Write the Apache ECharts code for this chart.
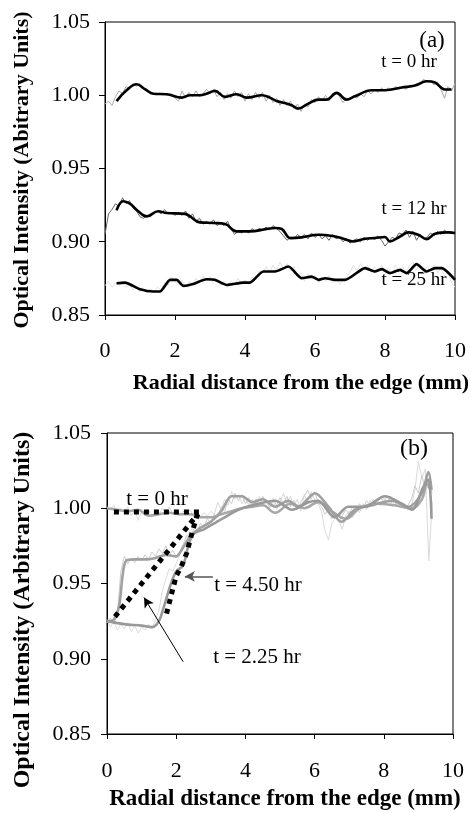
<!DOCTYPE html>
<html>
<head>
<meta charset="utf-8">
<script src="https://cdn.jsdelivr.net/npm/echarts@6/dist/echarts.min.js"></script>
<style>
  html, body { margin: 0; padding: 0; background: #fff; }
  #chart { width: 470px; height: 813px; }
</style>
</head>
<body>
<div id="chart"></div>
<script>
// sample positions (mm) of the raw scans
const RAW_X = [0,0.1,0.2,0.3,0.4,0.5,0.6,0.7,0.8,0.9,1,1.1,1.2,1.3,1.4,1.5,1.6,1.7,1.8,1.9,2,2.1,2.2,2.3,2.4,2.5,2.6,2.7,2.8,2.9,3,3.1,3.2,3.3,3.4,3.5,3.6,3.7,3.8,3.9,4,4.1,4.2,4.3,4.4,4.5,4.6,4.7,4.8,4.9,5,5.1,5.2,5.3,5.4,5.5,5.6,5.7,5.8,5.9,6,6.1,6.2,6.3,6.4,6.5,6.6,6.7,6.8,6.9,7,7.1,7.2,7.3,7.4,7.5,7.6,7.7,7.8,7.9,8,8.1,8.2,8.3,8.4,8.5,8.6,8.7,8.8,8.9,9,9.1,9.2,9.3,9.4,9.5,9.6,9.7,9.8,9.9,10];

// panel (a) raw scans
const A_T0_RAW = [0.994,0.996,0.993,0.999,1.003,1.001,1.006,1.004,1.008,1.006,1.008,1.005,1.004,1.002,1.001,1.001,1.001,1.001,1.000,1.001,0.998,0.996,1.003,0.998,1.002,0.999,1.003,0.999,1.001,1.004,1.001,1.004,0.999,1.002,0.997,1.001,0.998,1.003,0.999,1.002,0.996,1.001,0.997,1.002,0.998,1.002,0.996,1.000,0.995,0.998,0.993,0.997,0.993,0.996,0.991,0.994,0.989,0.994,0.992,0.997,0.995,0.999,0.996,1.000,0.996,1.001,1.002,0.999,0.995,0.998,0.997,1.000,0.998,1.001,0.999,1.003,1.001,1.004,1.002,1.005,1.003,1.005,1.003,1.006,1.004,1.006,1.004,1.007,1.006,1.008,1.007,1.011,1.009,1.010,1.007,1.009,1.004,0.998,1.006,1.003,1.008];
const A_T12_RAW = [0.905,0.919,0.922,0.926,0.924,0.930,0.926,0.928,0.923,0.921,0.917,0.916,0.918,0.917,0.920,0.921,0.919,0.922,0.919,0.920,0.918,0.920,0.918,0.921,0.916,0.919,0.914,0.916,0.912,0.914,0.912,0.915,0.911,0.913,0.911,0.914,0.909,0.905,0.907,0.906,0.908,0.906,0.909,0.907,0.909,0.908,0.910,0.908,0.911,0.909,0.907,0.904,0.901,0.903,0.902,0.905,0.903,0.905,0.902,0.906,0.903,0.905,0.902,0.904,0.901,0.905,0.902,0.903,0.900,0.902,0.899,0.901,0.902,0.900,0.903,0.901,0.903,0.902,0.904,0.901,0.897,0.900,0.903,0.902,0.906,0.905,0.908,0.903,0.907,0.901,0.905,0.902,0.903,0.906,0.904,0.907,0.905,0.908,0.906,0.907,0.905];
const A_T25_RAW = [0.870,0.873,0.869,0.872,0.870,0.873,0.869,0.871,0.867,0.869,0.866,0.868,0.865,0.868,0.866,0.869,0.867,0.872,0.870,0.876,0.873,0.870,0.874,0.869,0.873,0.871,0.875,0.872,0.877,0.873,0.876,0.872,0.874,0.870,0.873,0.869,0.873,0.871,0.875,0.871,0.874,0.871,0.876,0.874,0.880,0.878,0.883,0.879,0.884,0.880,0.886,0.881,0.885,0.880,0.883,0.876,0.879,0.873,0.878,0.874,0.877,0.872,0.876,0.873,0.877,0.872,0.875,0.871,0.874,0.876,0.879,0.884,0.880,0.885,0.881,0.884,0.879,0.883,0.880,0.884,0.879,0.882,0.878,0.884,0.880,0.883,0.879,0.884,0.886,0.881,0.885,0.879,0.883,0.880,0.884,0.879,0.882,0.877,0.880,0.872,0.869];

// panel (a) smoothed fits [mm, intensity]
const A_T0_FIT = [[0.33,0.996],[0.6,1.003],[0.9,1.0075],[1.15,1.004],[1.38,1.001],[1.76,1.0007],[2.19,0.9984],[2.43,1.000],[2.71,1.000],[2.9,1.001],[3.14,1.003],[3.43,0.9989],[3.76,1.0007],[4.05,0.9984],[4.48,1.000],[4.71,0.9984],[4.9,0.9961],[5.14,0.9947],[5.33,0.9932],[5.52,0.9909],[5.81,0.9943],[6.1,0.997],[6.33,0.997],[6.62,1.0016],[6.9,0.997],[7.14,0.9993],[7.62,1.0034],[8.0,1.0034],[8.48,1.0053],[8.86,1.0066],[9.19,1.0096],[9.43,1.0087],[9.71,1.0039],[9.9,1.0039]];
const A_T12_FIT = [[0.33,0.9214],[0.52,0.9276],[0.71,0.926],[0.95,0.9208],[1.19,0.9173],[1.52,0.9208],[1.76,0.9196],[2.29,0.919],[2.43,0.9173],[2.71,0.9132],[3.1,0.9128],[3.43,0.9121],[3.76,0.9071],[4.14,0.9071],[4.62,0.9087],[4.86,0.9094],[5.05,0.9087],[5.29,0.9025],[5.62,0.903],[6.1,0.9048],[6.57,0.9036],[6.81,0.9021],[7.1,0.9002],[7.43,0.9021],[7.71,0.9025],[8.0,0.9032],[8.14,0.9002],[8.43,0.9036],[8.67,0.9064],[8.95,0.9048],[9.19,0.9018],[9.43,0.9055],[9.81,0.9064],[10.0,0.906]];
const A_T25_FIT = [[0.33,0.8717],[0.57,0.8721],[1.0,0.8676],[1.38,0.866],[1.57,0.866],[1.86,0.874],[2.05,0.874],[2.24,0.8699],[2.52,0.8712],[2.9,0.8744],[3.14,0.874],[3.48,0.8705],[3.95,0.8721],[4.14,0.8721],[4.52,0.8797],[4.86,0.8797],[5.24,0.8831],[5.62,0.8751],[5.9,0.8762],[6.1,0.874],[6.29,0.8751],[6.57,0.874],[6.86,0.874],[7.43,0.882],[7.71,0.8797],[7.91,0.8813],[8.14,0.8786],[8.43,0.8808],[8.62,0.8786],[8.9,0.8847],[9.19,0.8797],[9.43,0.882],[9.62,0.882],[10.0,0.874]];

// panel (b) raw scans (0 .. 9.4 mm)
const B_RAW_1 = [1.001,0.999,1.002,0.996,1.000,0.997,1.001,0.995,0.999,0.992,0.998,0.996,0.999,0.994,0.998,0.996,1.000,0.997,1.001,0.996,0.999,0.995,0.998,0.996,0.999,0.995,0.997,0.994,0.997,0.995,0.998,0.996,1.004,0.999,1.006,1.002,1.011,1.006,1.009,1.003,1.007,1.002,1.006,1.001,1.008,1.003,1.006,1.000,1.005,0.999,1.004,1.010,1.003,1.008,1.001,1.006,0.998,1.009,1.004,1.011,1.006,1.003,0.998,0.985,0.979,0.990,0.994,0.992,0.986,0.995,0.998,0.994,1.001,0.997,1.003,0.999,1.005,1.001,1.006,1.002,1.007,1.003,1.008,1.002,1.005,1.000,1.003,0.999,1.002,1.012,1.031,1.020,1.026,0.965,1.004];
const B_RAW_2 = [0.924,0.927,0.923,0.930,0.958,0.968,0.963,0.967,0.964,0.968,0.965,0.969,0.966,0.971,0.968,0.973,0.970,0.975,0.969,0.972,0.968,0.971,0.976,0.982,0.979,0.986,0.984,0.990,0.987,0.993,0.990,0.996,0.994,1.001,0.998,1.006,1.003,1.010,1.005,1.009,1.003,1.007,1.001,1.006,1.002,1.008,1.004,1.001,1.006,1.002,1.007,1.003,1.008,1.001,1.005,0.999,1.004,1.008,1.012,1.006,1.011,1.004,1.001,0.996,0.999,0.993,0.997,0.991,0.995,0.999,0.996,1.001,0.998,1.003,1.000,1.005,1.002,1.006,1.003,1.007,1.004,1.008,1.003,1.006,1.001,1.004,1.000,1.002,1.006,1.015,1.010,1.022,1.012,1.015,1.010];
const B_RAW_3 = [0.926,0.921,0.925,0.919,0.923,0.920,0.924,0.918,0.922,0.917,0.921,0.919,0.923,0.920,0.926,0.932,0.945,0.953,0.960,0.958,0.963,0.969,0.976,0.981,0.985,0.987,0.990];

// panel (b) smoothed profiles
const B_T0_FIT = [[0,1.000],[0.3,0.999],[0.6,0.998],[0.9,0.999],[1.2,0.995],[1.5,0.996],[1.8,0.997],[2.1,0.996],[2.4,0.996],[2.7,0.994],[3.0,0.994],[3.3,0.996],[3.6,0.998],[3.9,1.000],[4.2,1.001],[4.5,1.002],[4.86,0.997],[5.3,1.003],[5.7,1.000],[6.1,1.004],[6.5,0.998],[6.9,0.993],[7.3,1.000],[7.8,1.003],[8.3,1.002],[8.8,1.000],[9.1,1.006],[9.25,1.016],[9.35,1.012]];
const B_T225_FIT = [[0,0.925],[0.2,0.926],[0.35,0.935],[0.45,0.955],[0.55,0.965],[0.8,0.966],[1.1,0.966],[1.4,0.967],[1.7,0.969],[2.0,0.968],[2.15,0.972],[2.4,0.981],[2.7,0.987],[3.0,0.991],[3.3,0.998],[3.6,1.008],[3.9,1.008],[4.2,1.004],[4.5,1.006],[4.86,1.001],[5.24,1.005],[5.53,1.001],[6.01,1.010],[6.4,1.001],[6.78,0.991],[7.17,0.999],[7.65,1.002],[8.23,1.005],[8.71,1.001],[9.1,1.010],[9.29,1.024],[9.38,1.012]];
const B_T450_FIT = [[0,0.925],[0.5,0.923],[1.0,0.922],[1.3,0.921],[1.5,0.925],[1.65,0.935],[1.85,0.950],[2.0,0.958],[2.2,0.962],[2.35,0.975],[2.5,0.983],[2.8,0.986],[3.1,0.990],[3.4,0.994],[3.8,0.999],[4.2,1.002],[4.86,1.005],[5.34,0.999],[5.82,1.004],[6.1,1.005],[6.58,0.994],[6.97,1.001],[7.46,1.001],[8.03,1.008],[8.52,1.003],[8.81,0.999],[9.14,1.014],[9.29,1.019],[9.38,0.993]];

// dotted guide lines in (b)
const B_GUIDE_T0 = [[0.2,0.9975],[2.7,0.9975]];
const B_GUIDE_T225 = [[0.23,0.928],[2.62,0.996]];
const B_GUIDE_T450 = [[1.72,0.930],[2.0,0.955],[2.14,0.961],[2.3,0.970],[2.45,0.983],[2.6,0.995],[2.7,0.9985]];

const Y_TICKS = [0.85, 0.90, 0.95, 1.00, 1.05];
const X_TICKS = [0, 2, 4, 6, 8, 10];

const SERIF = "'Liberation Serif', 'DejaVu Serif', serif";

function pairs(values) {
  return values.map((v, i) => [RAW_X[i], v]);
}

function line(name, grid, data, color, width, smooth, extra) {
  return Object.assign({
    name: name,
    type: "line",
    xAxisIndex: grid,
    yAxisIndex: grid,
    data: data,
    symbol: "none",
    smooth: smooth,
    silent: true,
    lineStyle: { color: color, width: width }
  }, extra || {});
}

function xAxisFor(grid, margin) {
  return {
    gridIndex: grid,
    type: "value",
    min: X_TICKS[0],
    max: X_TICKS[X_TICKS.length - 1],
    interval: 2,
    axisLine: { onZero: false, lineStyle: { color: "#000", width: 1 } },
    axisTick: { length: 5, lineStyle: { color: "#000" } },
    axisLabel: { margin: margin, fontSize: 22, fontFamily: SERIF, color: "#000" },
    splitLine: { show: false }
  };
}

function yAxisFor(grid, margin) {
  return {
    gridIndex: grid,
    type: "value",
    min: Y_TICKS[0],
    max: Y_TICKS[Y_TICKS.length - 1],
    interval: 0.05,
    axisLine: { show: true, lineStyle: { color: "#000", width: 1 } },
    axisTick: { show: true, length: 6, lineStyle: { color: "#000" } },
    axisLabel: {
      margin: margin, fontSize: 22, fontFamily: SERIF, color: "#000",
      formatter: v => v.toFixed(2)
    },
    splitLine: { show: false }
  };
}

function txt(text, x, y, size, bold, rot) {
  return {
    type: "text",
    x: x, y: y,
    rotation: rot || 0,
    silent: true,
    style: {
      text: text,
      fill: "#000",
      font: (bold ? "bold " : "") + size + "px " + SERIF,
      align: "center",
      verticalAlign: "middle"
    }
  };
}

const myChart = echarts.init(document.getElementById("chart"));

const option = {
  animation: false,
  backgroundColor: "#fff",
  grid: [
    { left: 105, top: 22, width: 350, height: 293, show: true, borderColor: "#000", borderWidth: 1 },
    { left: 107, top: 433, width: 346, height: 301, show: true, borderColor: "#000", borderWidth: 1 }
  ],
  xAxis: [xAxisFor(0, 25), xAxisFor(1, 26)],
  yAxis: [yAxisFor(0, 15), yAxisFor(1, 16)],
  series: [
    // (a)
    line("t0 raw", 0, pairs(A_T0_RAW), "#a9a9a9", 1, false),
    line("t12 raw", 0, pairs(A_T12_RAW), "#666666", 1, false),
    line("t25 raw", 0, pairs(A_T25_RAW), "#e2e2e2", 1, false),
    line("t0 fit", 0, A_T0_FIT, "#000", 2.6, 0.4),
    line("t12 fit", 0, A_T12_FIT, "#000", 2.6, 0.4),
    line("t25 fit", 0, A_T25_FIT, "#000", 2.6, 0.2),
    // (b)
    line("b raw 1", 1, pairs(B_RAW_1), "#dadada", 1, false),
    line("b raw 2", 1, pairs(B_RAW_2), "#cdcdcd", 1, false),
    line("b raw 3", 1, pairs(B_RAW_3), "#dcdcdc", 1, false),
    line("b t0 fit", 1, B_T0_FIT, "#a8a8a8", 2.6, 0.4),
    line("b t2.25 fit", 1, B_T225_FIT, "#a0a0a0", 2.6, 0.3),
    line("b t4.50 fit", 1, B_T450_FIT, "#999999", 2.6, 0.3),
    line("guide t0", 1, B_GUIDE_T0, "#000", 5, false, {
      lineStyle: { color: "#000", width: 5, type: [5, 5], cap: "butt" }
    }),
    line("guide t2.25", 1, B_GUIDE_T225, "#000", 5, false, {
      lineStyle: { color: "#000", width: 5, type: [5, 5], cap: "butt" }
    }),
    line("guide t4.50", 1, B_GUIDE_T450, "#000", 5, false, {
      lineStyle: { color: "#000", width: 5, type: [5, 5], cap: "butt" },
      markLine: {
        silent: true,
        symbol: ["none", "arrow"],
        symbolSize: [8, 10],
        label: { show: false },
        data: [
          [{ coord: [3.06, 0.9547], lineStyle: { color: "#555", width: 1.5, type: "solid" } },
           { coord: [2.25, 0.9547] }],
          [{ coord: [2.2, 0.898], lineStyle: { color: "#000", width: 1, type: "solid" } },
           { coord: [1.07, 0.9407] }]
        ]
      }
    })
  ],
  graphic: [
    txt("Optical Intensity (Abitrary Units)", 22, 170, 22, true, Math.PI / 2),
    txt("Radial distance from the edge (mm)", 301, 383, 22, true),
    txt("(a)", 432, 41, 23, false),
    txt("t = 0 hr", 409, 62, 19, false),
    txt("t = 12 hr", 414, 209, 19, false),
    txt("t = 25 hr", 414, 280, 19, false),
    txt("Optical Intensity (Arbitrary Units)", 23, 610, 24, true, Math.PI / 2),
    txt("Radial distance from the edge (mm)", 285, 799, 23, true),
    txt("(b)", 414, 449, 24, false),
    txt("t = 0 hr", 157, 499, 21, false),
    txt("t = 4.50 hr", 258, 585, 21, false),
    txt("t = 2.25 hr", 257, 657, 21, false)
  ]
};

myChart.setOption(option);
window.addEventListener("resize", function () {
  myChart.resize();
});
</script>
</body>
</html>
